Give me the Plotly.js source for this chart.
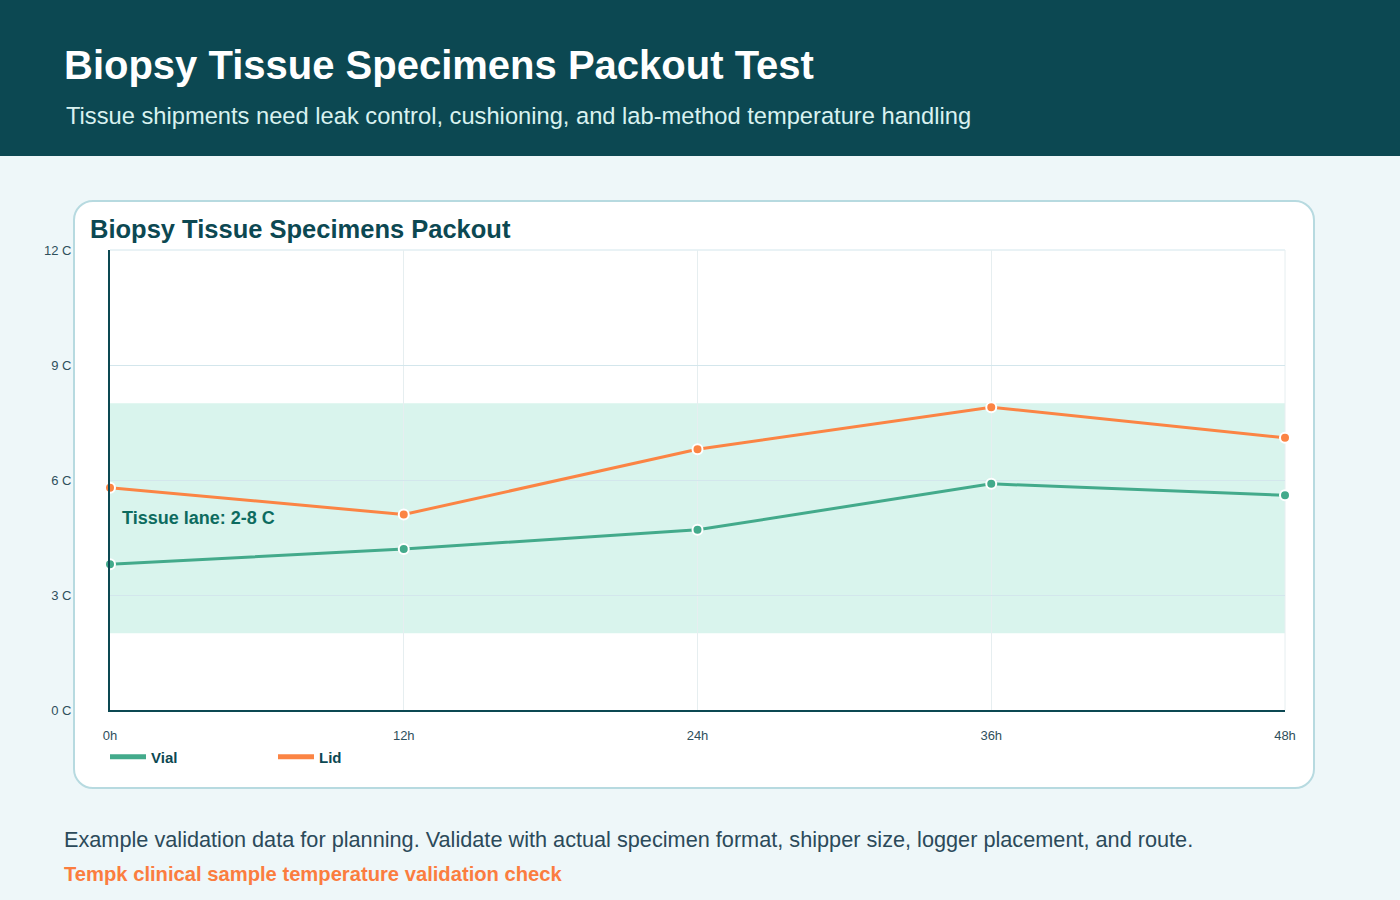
<!DOCTYPE html>
<html>
<head>
<meta charset="utf-8">
<script src="https://cdn.plot.ly/plotly-3.0.1.min.js"></script>
<style>
  html, body { margin: 0; padding: 0; width: 1400px; height: 900px; overflow: hidden; background: #eef7f9; font-family: "Liberation Sans", Arial, sans-serif; }
  #header { position: absolute; left: 0; top: 0; width: 1400px; height: 156px; background: #0c4852; }
  #h1 { position: absolute; left: 64px; top: 43px; font-size: 40px; font-weight: bold; color: #ffffff; white-space: nowrap; }
  #h2 { position: absolute; left: 66px; top: 103px; font-size: 23.7px; color: #d9f2f0; white-space: nowrap; }
  #card { position: absolute; left: 73px; top: 200px; width: 1238px; height: 585px; background: #ffffff; border: 2px solid #b7dae0; border-radius: 20px; }
  #plot { position: absolute; left: 0; top: 0; width: 1400px; height: 900px; }
  #foot1 { position: absolute; left: 64px; top: 827px; font-size: 21.7px; color: #2b4a5a; white-space: nowrap; }
  #foot2 { position: absolute; left: 64px; top: 863px; font-size: 20.2px; font-weight: bold; color: #fb7d3f; white-space: nowrap; }
</style>
</head>
<body>
<div id="header"><div id="h1">Biopsy Tissue Specimens Packout Test</div><div id="h2">Tissue shipments need leak control, cushioning, and lab-method temperature handling</div></div>
<div id="card"></div>
<div id="plot"></div>
<div id="foot1">Example validation data for planning. Validate with actual specimen format, shipper size, logger placement, and route.</div>
<div id="foot2">Tempk clinical sample temperature validation check</div>
<script>
const hours = [0, 12, 24, 36, 48];
const hourLabels = ["0h", "12h", "24h", "36h", "48h"];
const vial = [3.8, 4.2, 4.7, 5.9, 5.6];
const lid = [5.8, 5.1, 6.8, 7.9, 7.1];
const yTicks = [0, 3, 6, 9, 12];
const yTickLabels = ["0 C", "3 C", "6 C", "9 C", "12 C"];
const laneLow = 2, laneHigh = 8;
const seriesNames = ["Vial", "Lid"];
const seriesColors = ["#43aa8b", "#fb8444"];
const seriesValues = [vial, lid];

const traces = [];
seriesValues.forEach((vals, i) => {
  traces.push({ x: hours, y: vals, name: seriesNames[i], type: "scatter", mode: "lines+markers",
    line: { color: seriesColors[i], width: 3 },
    marker: { color: seriesColors[i], size: 10, line: { color: "#ffffff", width: 2 } },
    cliponaxis: false, showlegend: false });
});
seriesValues.forEach((vals, i) => {
  traces.push({ x: [null], y: [null], name: seriesNames[i], type: "scatter", mode: "lines",
    line: { color: seriesColors[i], width: 5 }, showlegend: true });
});

const layout = {
  width: 1400, height: 900,
  paper_bgcolor: "rgba(0,0,0,0)", plot_bgcolor: "rgba(0,0,0,0)",
  margin: { l: 110, r: 115, t: 250, b: 190, pad: 0 },
  font: { family: "Liberation Sans, Arial, sans-serif", color: "#2f4f5c", size: 13 },
  title: { text: "<b>Biopsy Tissue Specimens Packout</b>", x: 90 / 1400, xanchor: "left", xref: "container",
    y: 1 - 229 / 900, yanchor: "middle", yref: "container",
    font: { size: 25.5, color: "#0c4852" } },
  showlegend: true,
  legend: { orientation: "h", x: -5 / 1175, xanchor: "left", y: -47 / 460, yanchor: "middle",
    font: { size: 15, color: "#0c4852", weight: "bold" }, entrywidth: 117, entrywidthmode: "pixels",
    bgcolor: "rgba(0,0,0,0)", itemwidth: 36, traceorder: "normal" },
  xaxis: { range: [0, 48], tickvals: hours, ticktext: hourLabels, showgrid: true, gridcolor: "#e6eef0",
    gridwidth: 1, zeroline: false, showline: true, linecolor: "#0c4852", linewidth: 2,
    ticks: "", tickfont: { size: 13, color: "#2f4f5c" }, ticklabelstandoff: 12, fixedrange: true },
  yaxis: { range: [0, 12], tickvals: yTicks, ticktext: yTickLabels, showgrid: true, gridcolor: "#d3e6ec",
    gridwidth: 1, zeroline: false, showline: true, linecolor: "#0c4852", linewidth: 2,
    ticks: "", tickfont: { size: 13, color: "#2f4f5c" }, ticklabelstandoff: 34, fixedrange: true },
  shapes: [
    { type: "rect", xref: "paper", yref: "y", x0: 0, x1: 1, y0: laneLow, y1: laneHigh,
      fillcolor: "rgba(67,200,165,0.2)", line: { width: 0 }, layer: "below" },
    { type: "line", xref: "paper", yref: "paper", x0: 0, x1: 1, y0: 1, y1: 1,
      line: { color: "#d3e6ec", width: 1 }, layer: "below" },
    { type: "line", xref: "paper", yref: "paper", x0: 1, x1: 1, y0: 0, y1: 1,
      line: { color: "#e6eef0", width: 1 }, layer: "below" }
  ],
  annotations: [
    { xref: "x", yref: "y", x: 0, y: 5, xshift: 10, xanchor: "left", yanchor: "middle", showarrow: false,
      text: "<b>Tissue lane: " + laneLow + "-" + laneHigh + " C</b>", font: { size: 18, color: "#0d6b5f" } }
  ]
};

Plotly.newPlot("plot", traces, layout, { displayModeBar: false, staticPlot: true });
</script>
</body>
</html>
